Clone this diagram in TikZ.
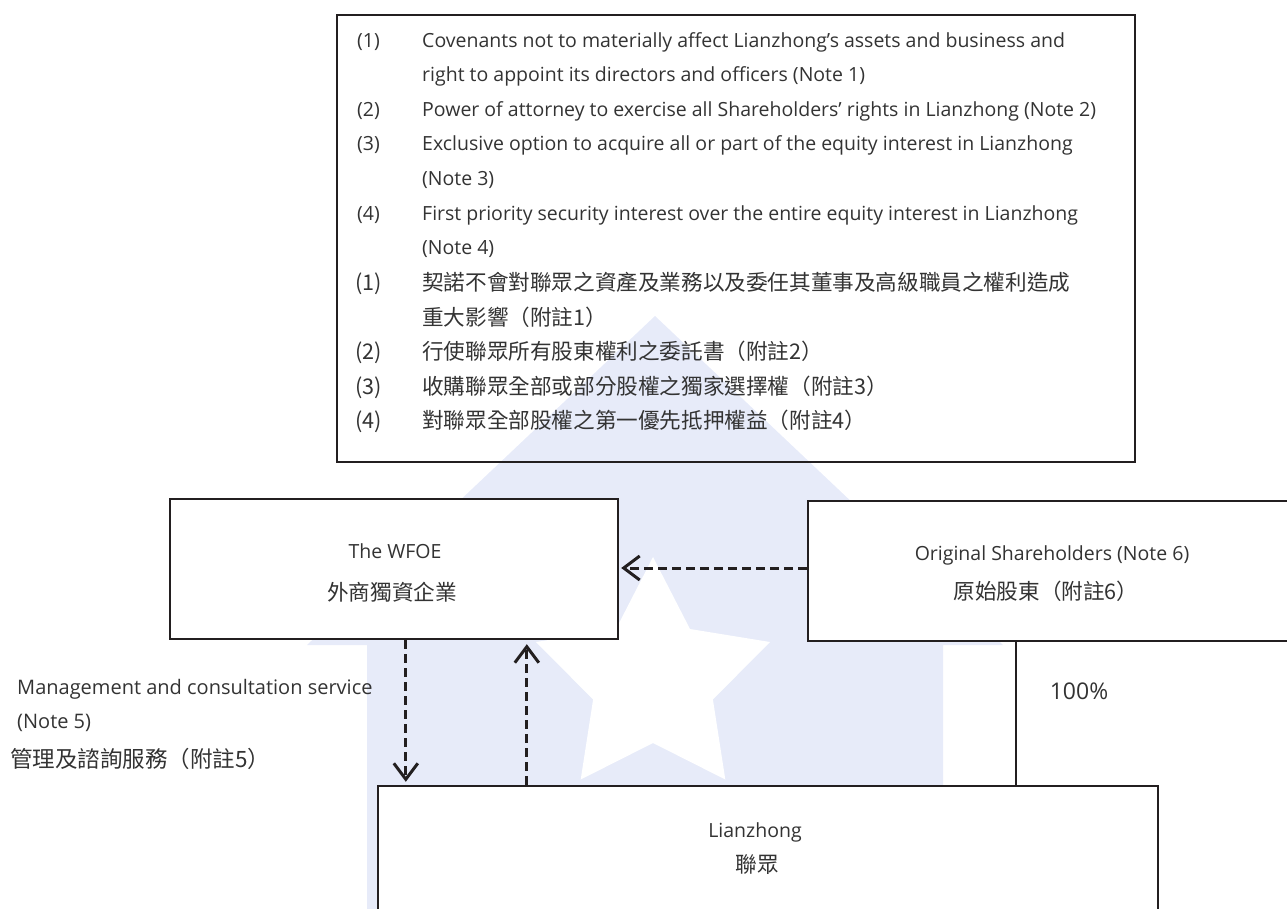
\documentclass[tikz,border=0pt]{standalone}
\usepackage{fontspec}
\newfontfamily\enfont{Open Sans}
\newfontfamily\zhfont{Noto Sans CJK TC}
\usetikzlibrary{arrows.meta}
\definecolor{boxcol}{HTML}{231F20}
\definecolor{txtcol}{HTML}{333333}
\definecolor{wmcol}{HTML}{E7EBF9}
\tikzset{
  box/.style={draw=boxcol, line width=2.4pt, fill=white, inner sep=0pt},
  en/.style={font=\enfont\fontsize{19.5pt}{23pt}\selectfont, text=txtcol, inner sep=0pt},
  zh/.style={font=\zhfont\fontsize{21.6pt}{25pt}\selectfont, text=txtcol, inner sep=0pt},
  dasharrow/.style={draw=boxcol, line width=3pt, dash pattern=on 9pt off 5pt,
    -{Straight Barb[length=16pt,width=24pt]}},
  solidline/.style={draw=boxcol, line width=2pt},
}
\begin{document}
\begin{tikzpicture}[x=1pt,y=-1pt]
\useasboundingbox (0,0) rectangle (1287,908);
\clip (0,0) rectangle (1287,908);
% watermark
\fill[wmcol] (655,316) -- (1003,645) -- (943,645) -- (943,912) -- (367,912) -- (367,645) -- (307,645) -- cycle;
\fill[white] (653,557) -- (690,629) -- (770,642) -- (712.9,699.5) -- (725.3,779.5) -- (653,743) -- (580.7,779.5) -- (593.1,699.5) -- (536,642) -- (616,629) -- cycle;

% notes box
\node[box, fill=none, anchor=north west, minimum width=798pt, minimum height=447pt] (notes) at (336,14) {};
\node[en, anchor=base west] (e1n) at (357,47) {(1)};
\node[en, anchor=base west] (e1a) at (422,47) {Covenants not to materially affect Lianzhong’s assets and business and};
\node[en, anchor=base west] (e1b) at (422,81.6) {right to appoint its directors and officers (Note 1)};
\node[en, anchor=base west] (e2n) at (357,116.2) {(2)};
\node[en, anchor=base west] (e2a) at (422,116.2) {Power of attorney to exercise all Shareholders’ rights in Lianzhong (Note 2)};
\node[en, anchor=base west] (e3n) at (357,150.8) {(3)};
\node[en, anchor=base west] (e3a) at (422,150.8) {Exclusive option to acquire all or part of the equity interest in Lianzhong};
\node[en, anchor=base west] (e3b) at (422,185.4) {(Note 3)};
\node[en, anchor=base west] (e4n) at (357,220) {(4)};
\node[en, anchor=base west] (e4a) at (422,220) {First priority security interest over the entire equity interest in Lianzhong};
\node[en, anchor=base west] (e4b) at (422,254.6) {(Note 4)};
\node[zh, anchor=base west] (c1n) at (355,290.5) {(1)};
\node[zh, anchor=base west] (c1a) at (422,290.5) {契諾不會對聯眾之資產及業務以及委任其董事及高級職員之權利造成};
\node[zh, anchor=base west] (c1b) at (422,325) {重大影響（附註1）};
\node[zh, anchor=base west] (c2n) at (355,359.7) {(2)};
\node[zh, anchor=base west] (c2a) at (422,359.7) {行使聯眾所有股東權利之委託書（附註2）};
\node[zh, anchor=base west] (c3n) at (355,394.3) {(3)};
\node[zh, anchor=base west] (c3a) at (422,394.3) {收購聯眾全部或部分股權之獨家選擇權（附註3）};
\node[zh, anchor=base west] (c4n) at (355,428.9) {(4)};
\node[zh, anchor=base west] (c4a) at (422,428.9) {對聯眾全部股權之第一優先抵押權益（附註4）};

% entity boxes
\node[box, minimum width=448pt, minimum height=140pt] (wfoe) at (394,569) {};
\node[en, anchor=base] (wfoeen) at (395,558.5) {The WFOE};
\node[zh, anchor=base] (wfoezh) at (392,600) {外商獨資企業};

\node[box, minimum width=484pt, minimum height=140pt] (os) at (1050,571) {};
\node[en, anchor=base] (osen) at (1052,560) {Original Shareholders (Note 6)};
\node[zh, anchor=base] (oszh) at (1046,599) {原始股東（附註6）};

\node[box, minimum width=780pt, minimum height=126pt] (lz) at (768,849) {};
\node[en, anchor=base] (lzen) at (755,837) {Lianzhong};
\node[zh, anchor=base] (lzzh) at (757,872) {聯眾};

% connectors
\draw[dasharrow, shorten >=2pt] ([yshift=3pt]os.west) -- ([yshift=1pt]wfoe.east);
\draw[dasharrow, shorten >=3pt] ([xshift=237pt]wfoe.south west) -- ([xshift=29pt]lz.north west);
\draw[dasharrow, shorten >=4pt] ([xshift=150pt]lz.north west) -- ([xshift=358pt]wfoe.south west);
\draw[solidline] ([xshift=209pt]os.south west) -- ([xshift=639pt]lz.north west);

% labels
\node[en, font=\enfont\fontsize{23pt}{27pt}\selectfont, anchor=base] (pct) at (1079,699) {100\%};
\node[en, font=\enfont\fontsize{20pt}{24pt}\selectfont, anchor=base west] (mg1) at (17,694) {Management and consultation service};
\node[en, font=\enfont\fontsize{20pt}{24pt}\selectfont, anchor=base west] (mg2) at (17,728) {(Note 5)};
\node[zh, font=\zhfont\fontsize{22.5pt}{26pt}\selectfont, anchor=base west] (mg3) at (10,767) {管理及諮詢服務（附註5）};
\end{tikzpicture}
\end{document}
